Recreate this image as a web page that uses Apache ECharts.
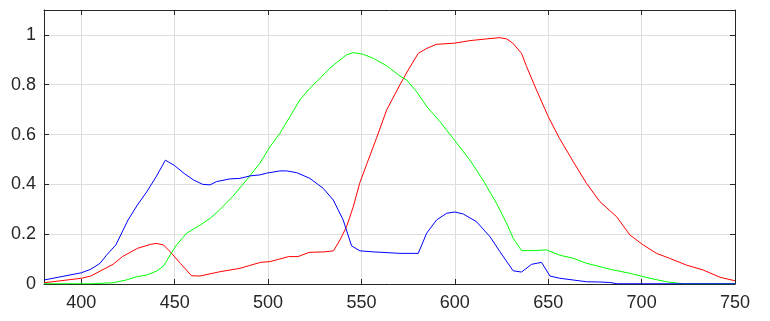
<!DOCTYPE html>
<html>
<head>
<meta charset="utf-8">
<script src="https://cdn.jsdelivr.net/npm/echarts@6/dist/echarts.min.js"></script>
<style>html,body{margin:0;padding:0;background:#fff}#c{width:770px;height:321px}</style>
</head>
<body>
<div id="c"></div>
<script>
var xTicks = [400, 450, 500, 550, 600, 650, 700, 750];
var yTicks = [0, 0.2, 0.4, 0.6, 0.8, 1];

var redData = [[380,0.005],[400,0.023],[405,0.032],[417,0.079],[422,0.11],[430,0.143],[437,0.159],[440,0.163],[444,0.157],[447.5,0.13],[453,0.083],[459,0.033],[463.5,0.032],[474,0.049],[485,0.063],[490,0.074],[496,0.087],[501,0.09],[506,0.1],[511,0.11],[516,0.11],[522,0.127],[530,0.129],[535,0.133],[538.5,0.177],[542,0.23],[545.6,0.31],[549,0.404],[553,0.485],[558,0.585],[563.5,0.699],[570.6,0.8],[575,0.859],[580.4,0.926],[585,0.946],[590,0.962],[600,0.967],[608,0.977],[617,0.984],[624,0.989],[627.7,0.984],[631,0.967],[635.7,0.926],[638.4,0.873],[643.7,0.779],[650,0.672],[656,0.585],[663.4,0.491],[670.5,0.404],[677.6,0.331],[686.6,0.27],[693.7,0.197],[700.8,0.157],[708,0.123],[715,0.103],[724,0.076],[733,0.056],[742,0.027],[750,0.013]];

var greenData = [[380,0.001],[405,0.001],[417,0.005],[424,0.016],[429.6,0.029],[435,0.036],[440.3,0.052],[444,0.072],[447.5,0.116],[451,0.157],[456.4,0.204],[463.5,0.236],[469,0.264],[474,0.297],[481,0.351],[488.5,0.418],[495.6,0.485],[501,0.551],[506.3,0.605],[511.7,0.672],[517,0.739],[522.4,0.786],[527.8,0.826],[533,0.866],[538.5,0.9],[542,0.92],[545.6,0.929],[551,0.922],[556.3,0.906],[563.5,0.876],[570.6,0.835],[574.2,0.819],[579.5,0.772],[585,0.712],[592,0.652],[599,0.585],[608,0.498],[615,0.418],[622.3,0.324],[627.7,0.244],[631.2,0.184],[635.7,0.134],[642,0.134],[649,0.137],[656,0.116],[663.4,0.103],[670.5,0.083],[677.6,0.07],[683,0.059],[693.7,0.043],[704.4,0.023],[713.3,0.009],[722,0.001],[750,0.001]];

var blueData = [[380,0.016],[400,0.045],[405,0.059],[410,0.083],[413.5,0.116],[418.5,0.157],[425,0.257],[430,0.317],[435,0.37],[440,0.43],[445,0.497],[450,0.475],[455,0.444],[460,0.418],[465,0.4],[468.9,0.398],[472.4,0.411],[479.6,0.422],[484.9,0.424],[490.3,0.434],[495.6,0.438],[499.2,0.445],[506.3,0.454],[509.9,0.454],[515.3,0.447],[522.4,0.424],[529.5,0.384],[534.9,0.337],[540.2,0.257],[544.7,0.153],[549.2,0.133],[556.3,0.129],[570.6,0.123],[580.4,0.123],[584.9,0.204],[590.2,0.257],[595.6,0.284],[600,0.289],[604.5,0.281],[611.6,0.25],[618.8,0.19],[624.1,0.13],[631.2,0.053],[635.7,0.048],[641.1,0.079],[646.4,0.087],[650.9,0.032],[656.2,0.023],[663.4,0.016],[670.5,0.009],[677.6,0.008],[683,0.006],[687,0.001],[750,0.001]];

var chart = echarts.init(document.getElementById('c'), null, {renderer: 'canvas'});
var axisColor = '#262626';
var gridColor = '#dedede';
var font = 'Liberation Sans, Arial, sans-serif';

function xAxisDef(pos, showLabel) {
  return {
    type: 'value', position: pos, min: 380, max: 750,
    axisLine: {show: true, onZero: false, lineStyle: {color: axisColor, width: 1}},
    axisTick: {show: true, inside: true, length: 5, customValues: xTicks, lineStyle: {color: axisColor}},
    axisLabel: {show: showLabel, customValues: xTicks, color: axisColor, fontSize: 18, fontFamily: font, margin: 10},
    splitLine: {show: showLabel, lineStyle: {color: gridColor, width: 1}}
  };
}
function yAxisDef(pos, showLabel) {
  return {
    type: 'value', position: pos, min: 0, max: 1.1,
    axisLine: {show: true, onZero: false, lineStyle: {color: axisColor, width: 1}},
    axisTick: {show: true, inside: true, length: 5, customValues: yTicks, lineStyle: {color: axisColor}},
    axisLabel: {show: showLabel, customValues: yTicks, color: axisColor, fontSize: 18, fontFamily: font, margin: 8},
    splitLine: {show: showLabel, lineStyle: {color: gridColor, width: 1}}
  };
}

chart.setOption({
  animation: false,
  backgroundColor: '#fff',
  grid: {left: 44, right: 35, top: 10, bottom: 37, containLabel: false},
  xAxis: [xAxisDef('bottom', true), xAxisDef('top', false)],
  yAxis: [yAxisDef('left', true), yAxisDef('right', false)],
  series: [
    {type: 'line', data: redData, showSymbol: false, lineStyle: {color: '#ff0000', width: 1}, itemStyle: {color: '#ff0000'}},
    {type: 'line', data: greenData, showSymbol: false, lineStyle: {color: '#00ff00', width: 1}, itemStyle: {color: '#00ff00'}},
    {type: 'line', data: blueData, showSymbol: false, lineStyle: {color: '#0000ff', width: 1}, itemStyle: {color: '#0000ff'}}
  ]
});
</script>
</body>
</html>
